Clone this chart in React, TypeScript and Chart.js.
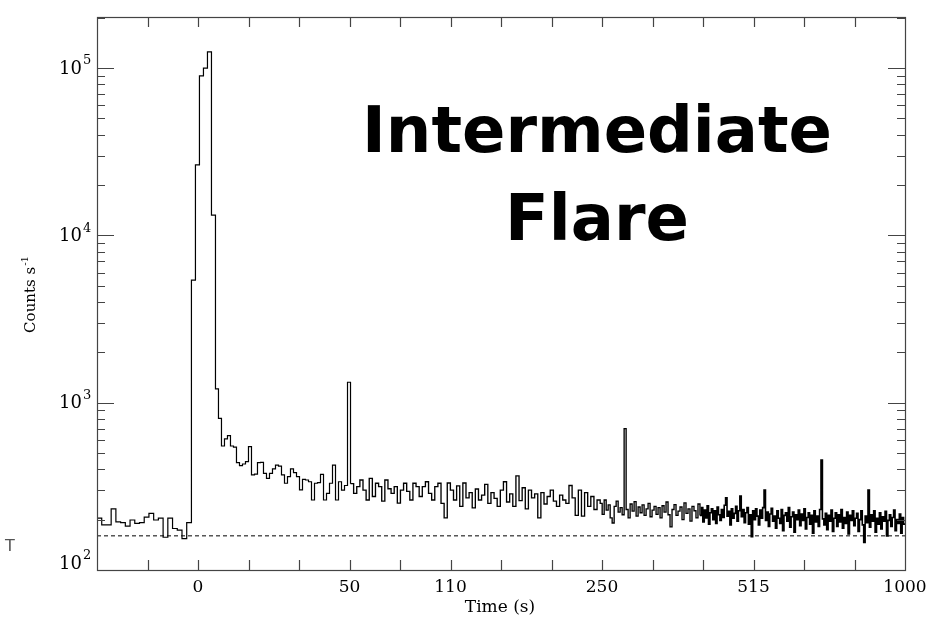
import React, { useEffect, useRef } from "react";
import { Chart, registerables } from "chart.js";

Chart.register(...registerables);

// The time axis of the original is non-linear: it is laid out in 16 equal "slots"
// (one per tick mark), and only some slots carry a time label.
const slotCount = 16;
const tickSlots = [2, 5, 7, 10, 13, 16];
const tickLabels = ["0", "50", "110", "250", "515", "1000"];

const yMin = 100;
const yMax = 202000;
const yDecades = [2, 3, 4, 5];
const backgroundLevel = 160;

// Light-curve segments: each covers [start, end] in slot units with equal-width bins.
const preFlareRange = [0, 1.87];
const preFlare = [204, 186, 186, 232, 194, 192, 183, 199, 190, 192, 207, 218, 199, 204, 157, 204, 177, 173, 154, 192];

const flareRange = [1.87, 2.346];
const flare = [5400, 26400, 89800, 100000, 125000, 13200];

const decayRange = [2.346, 5.02];
const decay = [
  1208, 807, 551, 607, 635, 551, 542, 438, 421, 430, 445, 547, 370, 374, 438, 440, 378, 353, 378, 402,
  424, 418, 370, 330, 362, 402, 382, 362, 301, 348, 345, 337, 262, 330, 333, 373, 262, 287, 330, 423,
  262, 337, 300, 320, 1325,
];

const midRange = [5.02, 9.964];
const mid = [
  328, 287, 315, 345, 300, 262, 353, 275, 330, 315, 258, 345, 306, 287, 315, 251, 300, 330, 295, 262,
  330, 315, 275, 315, 337, 287, 262, 315, 330, 250, 205, 331,
  300, 262, 318, 240, 331, 270, 290, 235, 305, 262, 280, 325, 250, 290, 268, 240, 300, 337,
  255, 285, 240, 365, 260, 310, 232, 300, 270, 285, 205, 290, 248, 275, 300, 258, 240, 280,
  262, 250, 320, 270, 212, 300, 210, 290, 240, 275, 230, 262,
];

const tailNearRange = [9.964, 11.94];
const tailNear = [
  250, 215, 262, 228, 245, 205, 191, 240, 258, 222,
  236, 214, 700, 230, 205, 248, 225, 256, 210, 238,
  220, 245, 212, 232, 250, 208, 228, 240, 215, 236,
  205, 242, 222, 255, 214, 181, 230, 246, 212, 225,
  238, 200, 252, 218, 232, 196, 240, 226, 205, 248,
];

const tailFarRange = [11.94, 16];
const tailFar = [
  212, 236, 194, 228, 205, 242, 188, 220, 232, 200,
  226, 190, 238, 214, 198, 230, 206, 244, 270, 210,
  224, 186, 232, 204, 218, 240, 196, 226, 277, 208,
  230, 192, 220, 236, 188, 214, 158, 226, 200, 232,
  210, 186, 228, 204, 236, 301, 198, 222, 182, 216,
  234, 196, 210, 178, 226, 204, 190, 230, 172, 212,
  220, 196, 236, 180, 208, 222, 168, 214, 200, 228,
  184, 216, 198, 232, 176, 206, 220, 188, 212, 166,
  226, 194, 210, 182, 230, 454, 202, 186, 218, 174,
  212, 196, 228, 170, 204, 220, 182, 214, 194, 230,
  178, 206, 190, 222, 164, 212, 198, 226, 184, 204,
  218, 170, 200, 226, 186, 146, 210, 192, 301, 180,
  214, 196, 226, 168, 204, 188, 220, 176, 208, 196,
  224, 160, 198, 214, 182, 206, 228, 172, 200, 190,
  216, 166, 206, 188,
];

const segments: [number[], number[]][] = [
  [preFlareRange, preFlare],
  [flareRange, flare],
  [decayRange, decay],
  [midRange, mid],
  [tailNearRange, tailNear],
  [tailFarRange, tailFar],
];

function buildSteps() {
  const pts: { x: number; y: number }[] = [];
  let last = 0;
  let lastEnd = 0;
  segments.forEach(([range, vals]) => {
    const w = (range[1] - range[0]) / vals.length;
    vals.forEach((v, i) => {
      pts.push({ x: range[0] + i * w, y: v });
      last = v;
    });
    lastEnd = range[1];
  });
  pts.push({ x: lastEnd, y: last });
  return pts;
}

const serif = '"DejaVu Serif", "Liberation Serif", serif';

const framePlugin = {
  id: "frame",
  afterDraw(chart: any) {
    const { ctx, chartArea } = chart;
    const { left, right, top, bottom } = chartArea;
    const xs = chart.scales.x;
    const ys = chart.scales.y;
    ctx.save();
    ctx.strokeStyle = "#444";
    ctx.lineWidth = 1.2;
    ctx.strokeRect(left + 0.5, top + 0.5, right - left, bottom - top);

    // x ticks (bottom & top, inward)
    ctx.beginPath();
    for (let s = 1; s < slotCount; s++) {
      const px = Math.round(xs.getPixelForValue(s)) + 0.5;
      ctx.moveTo(px, bottom);
      ctx.lineTo(px, bottom - 10);
      ctx.moveTo(px, top);
      ctx.lineTo(px, top + 10);
    }
    // y ticks (left & right, inward)
    yDecades.forEach((d) => {
      for (let m = 1; m <= 9; m++) {
        const v = m * Math.pow(10, d);
        if (v <= yMin || v >= yMax) continue;
        const py = Math.round(ys.getPixelForValue(v)) + 0.5;
        const len = m === 1 ? 17 : 8;
        ctx.moveTo(left, py);
        ctx.lineTo(left + len, py);
        ctx.moveTo(right, py);
        ctx.lineTo(right - len, py);
      }
    });
    ctx.stroke();

    // x tick labels
    ctx.fillStyle = "#000";
    ctx.font = `17px ${serif}`;
    ctx.textAlign = "center";
    ctx.textBaseline = "middle";
    tickSlots.forEach((s, i) => {
      ctx.fillText(tickLabels[i], xs.getPixelForValue(s), 588);
    });

    // y tick labels 10^n
    yDecades.forEach((d) => {
      let py = ys.getPixelForValue(Math.pow(10, d));
      if (d === 2) py -= 7;
      ctx.font = `18px ${serif}`;
      ctx.textAlign = "right";
      ctx.textBaseline = "middle";
      ctx.fillText("10", left - 15, py + 1);
      ctx.font = `13px ${serif}`;
      ctx.textAlign = "left";
      ctx.fillText(String(d), left - 14, py - 7);
    });

    // axis titles
    ctx.font = `17px ${serif}`;
    ctx.textAlign = "center";
    ctx.textBaseline = "middle";
    ctx.fillText("Time (s)", 500, 608);

    ctx.save();
    ctx.translate(31, 295);
    ctx.rotate(-Math.PI / 2);
    ctx.font = `15px ${serif}`;
    const main = "Counts s";
    const wMain = ctx.measureText(main).width;
    ctx.font = `10px ${serif}`;
    const wExp = ctx.measureText("-1").width;
    const start = -(wMain + wExp) / 2;
    ctx.font = `15px ${serif}`;
    ctx.textAlign = "left";
    ctx.fillText(main, start, 0);
    ctx.font = `10px ${serif}`;
    ctx.fillText("-1", start + wMain + 1, -6);
    ctx.restore();

    // annotation
    ctx.font = 'bold 64px "DejaVu Sans", sans-serif';
    ctx.textAlign = "center";
    ctx.textBaseline = "alphabetic";
    ctx.fillText("Intermediate", 597, 152);
    ctx.fillText("Flare", 597, 240);

    // stray glyph at the left edge
    ctx.font = '16px "DejaVu Sans", sans-serif';
    ctx.fillStyle = "#555";
    ctx.textAlign = "center";
    ctx.textBaseline = "middle";
    ctx.fillText("T", 10, 547);
    ctx.restore();
  },
};

export default function App() {
  const ref = useRef<HTMLCanvasElement | null>(null);
  useEffect(() => {
    if (!ref.current) return;
    const chart = new Chart(ref.current, {
      type: "line",
      data: {
        datasets: [
          {
            data: buildSteps(),
            borderColor: "#000",
            borderWidth: 1.2,
            stepped: "before",
            pointRadius: 0,
            fill: false,
            segment: {
              borderWidth: (c: any) => (c.p0.parsed.x >= tailFarRange[0] - 0.001 ? 1.6 : c.p0.parsed.x >= midRange[0] ? 1.35 : 1.2),
            },
          },
          {
            data: [
              { x: 0, y: backgroundLevel },
              { x: slotCount, y: backgroundLevel },
            ],
            borderColor: "#000",
            borderWidth: 1,
            borderDash: [4, 3],
            pointRadius: 0,
            fill: false,
          },
        ],
      },
      options: {
        animation: false,
        responsive: false,
        events: [],
        layout: { padding: { left: 97, right: 30, top: 17, bottom: 55 } },
        scales: {
          x: { type: "linear", min: 0, max: slotCount, display: false },
          y: { type: "logarithmic", min: yMin, max: yMax, display: false },
        },
        plugins: { legend: { display: false }, tooltip: { enabled: false } },
      },
      plugins: [framePlugin],
    } as any);
    return () => chart.destroy();
  }, []);
  return (
    <div style={{ position: "fixed", left: 0, top: 0, width: 935, height: 625, background: "#fff" }}>
      <canvas ref={ref} width={935} height={625} style={{ width: 935, height: 625, display: "block" }} />
    </div>
  );
}
